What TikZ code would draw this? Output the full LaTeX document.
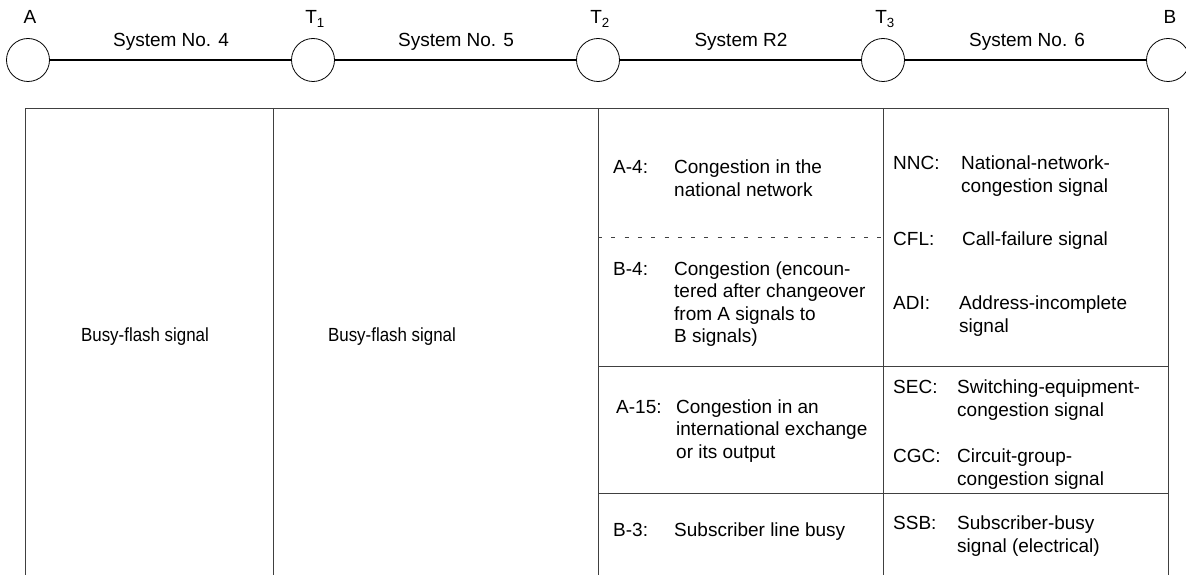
\documentclass[tikz,border=0pt]{standalone}
\usepackage{fontspec}
\setmainfont{Liberation Sans}
\newfontfamily\narrowsans[FakeStretch=0.89]{Liberation Sans}
\begin{document}
\begin{tikzpicture}[x=1pt,y=-1pt,
  stn/.style={draw, circle, minimum size=43pt, inner sep=0pt, line width=0.8pt},
  link/.style={line width=1.4pt},
  gridline/.style={line width=0.9pt, draw=black!75},
  dashline/.style={line width=0.9pt, draw=black!75, dash pattern=on 4pt off 9.3pt},
  lbl/.style={font=\fontsize{19}{22.5}\selectfont, inner sep=0pt, anchor=base},
  txt/.style={font=\fontsize{19}{22.5}\selectfont, inner sep=0pt, anchor=base west, align=left}]
\useasboundingbox (0,0) rectangle (1186,575);
\clip (0,0) rectangle (1186,575);
% stations
\node[stn] (A) at (28,60) {};
\node[stn] (T1) at (313,60) {};
\node[stn] (T2) at (598,60) {};
\node[stn] (T3) at (883,60) {};
\node[stn] (B) at (1168,60) {};
\draw[link] (A) -- (T1);
\draw[link] (T1) -- (T2);
\draw[link] (T2) -- (T3);
\draw[link] (T3) -- (B);
\node[lbl] (lA) at (30,24) {A};
\node[lbl] (lT1) at (315,24) {T\textsubscript{1}};
\node[lbl] (lT2) at (600,24) {T\textsubscript{2}};
\node[lbl] (lT3) at (885,24) {T\textsubscript{3}};
\node[lbl] (lB) at (1170,24) {B};
\node[lbl] (s4) at (171,47) {System No. 4};
\node[lbl] (s5) at (456,47) {System No. 5};
\node[lbl] (sR2) at (741,47) {System R2};
\node[lbl] (s6) at (1027,47) {System No. 6};
% table
\draw[gridline] (25,575) -- (25,108) -- (1168,108) -- (1168,575);
\draw[gridline] (273,108) -- (273,575);
\draw[gridline] (598,108) -- (598,575);
\draw[gridline] (883,108) -- (883,575);
\draw[gridline] (598,366) -- (1168,366);
\draw[gridline] (598,493) -- (1168,493);
\draw[dashline] (598,237) -- (883,237);
% column 1 and 2
\node[lbl, font=\narrowsans\fontsize{19}{22.5}\selectfont] (bf1) at (145,341) {Busy-flash signal};
\node[lbl, font=\narrowsans\fontsize{19}{22.5}\selectfont] (bf2) at (392,341) {Busy-flash signal};
% column 3 (multi-line nodes are placed at the baseline of their last line)
\node[txt] (a4l) at (613,173) {A-4:};
\node[txt] (a4t) at (674,196) {Congestion in the\\national network};
\node[txt] (b4l) at (613,275) {B-4:};
\node[txt] (b4t) at (674,342.5) {Congestion (encoun-\\tered after changeover\\from A signals to\\B signals)};
\node[txt] (a15l) at (616,413) {A-15:};
\node[txt] (a15t) at (676,458) {Congestion in an\\international exchange\\or its output};
\node[txt] (b3l) at (613,536) {B-3:};
\node[txt] (b3t) at (674,536) {Subscriber line busy};
% column 4
\node[txt] (nncl) at (893,170) {NNC:};
\node[txt] (nnct) at (961,192) {National-network-\\congestion signal};
\node[txt] (cfll) at (893,245) {CFL:};
\node[txt] (cflt) at (962,245) {Call-failure signal};
\node[txt] (adil) at (893,309) {ADI:};
\node[txt] (adit) at (959,332) {Address-incomplete\\signal};
\node[txt] (secl) at (893,393) {SEC:};
\node[txt] (sect) at (957,416) {Switching-equipment-\\congestion signal};
\node[txt] (cgcl) at (893,462) {CGC:};
\node[txt] (cgct) at (957,485) {Circuit-group-\\congestion signal};
\node[txt] (ssbl) at (893,529) {SSB:};
\node[txt] (ssbt) at (957,552) {Subscriber-busy\\signal (electrical)};
\end{tikzpicture}
\end{document}
